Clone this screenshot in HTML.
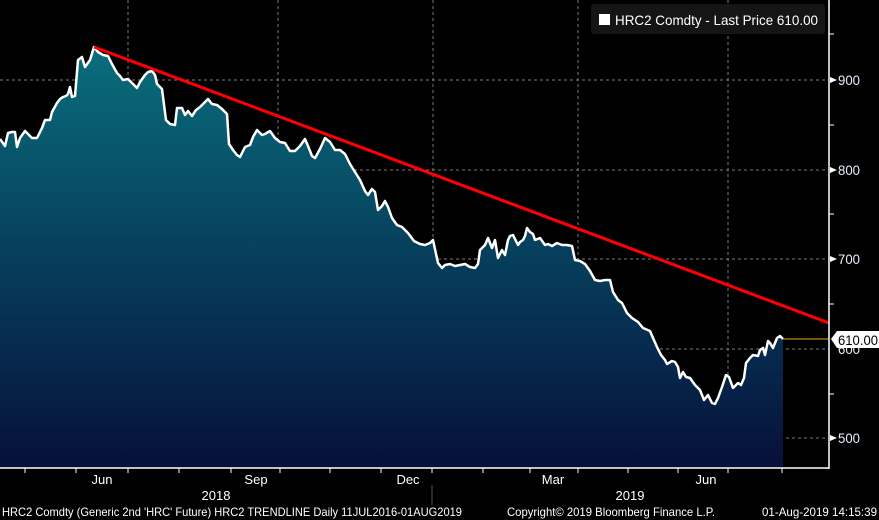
<!DOCTYPE html>
<html><head><meta charset="utf-8"><style>
html,body{margin:0;padding:0;background:#000;}
svg{display:block;font-family:"Liberation Sans",sans-serif;}
</style></head><body>
<svg width="879" height="520" viewBox="0 0 879 520" xmlns="http://www.w3.org/2000/svg">
<defs>
<linearGradient id="g" x1="0" y1="47" x2="0" y2="468" gradientUnits="userSpaceOnUse">
<stop offset="0" stop-color="#0a6e7c"/>
<stop offset="0.5" stop-color="#063e5c"/>
<stop offset="1" stop-color="#07103a"/>
</linearGradient>
</defs>
<rect width="879" height="520" fill="#000"/>
<g stroke="#7a7a7a" stroke-width="1" stroke-dasharray="3,3">
<line x1="0" y1="80" x2="829" y2="80"/><line x1="0" y1="170" x2="829" y2="170"/>
<line x1="0" y1="259" x2="829" y2="259"/><line x1="0" y1="349" x2="829" y2="349"/>
<line x1="0" y1="438" x2="829" y2="438"/>
<line x1="128" y1="0" x2="128" y2="468"/><line x1="278" y1="0" x2="278" y2="468"/>
<line x1="433" y1="0" x2="433" y2="468"/><line x1="578" y1="0" x2="578" y2="468"/>
<line x1="728" y1="0" x2="728" y2="468"/>
</g>
<polygon fill="url(#g)" points="0,468 0,139 5,146 8,133 12,132 15,132 17,147 20,138 25,131 28,134 32,138 37,138 42,128 45,120 50,120 52,112 57,103 60,99 63,97 66,96 68,94 70,87 72,97 75,96 78,60 82,57 85,67 90,60 94,47 98,52 103,55 108,56 112,64 117,73 120,76 123,80 128,79 132,83 137,88 140,82 145,75 148,72 152,71 155,75 157,84 162,89 166,120 170,124 175,125 177,108 182,108 185,115 188,111 192,116 196,110 200,107 205,102 208,99 212,104 217,105 222,109 227,114 229,144 233,150 237,155 240,157 245,147 250,145 253,137 257,130 262,135 265,134 270,131 275,138 280,142 285,143 290,151 295,151 300,146 305,139 308,146 312,156 315,158 320,149 325,138 330,142 335,150 340,150 345,154 350,164 355,172 360,180 365,191 368,195 372,189 375,192 378,210 382,206 385,201 388,207 392,218 397,225 402,227 408,233 414,241 420,244 425,245 430,243 433,240 438,263 442,268 445,265 450,264 455,266 460,265 465,264 470,267 475,268 478,264 480,250 485,245 488,238 492,248 495,240 498,258 502,250 505,255 508,240 510,236 513,235 518,245 520,242 523,240 525,236 527,228 530,232 533,234 535,240 540,238 545,245 548,244 552,246 557,243 562,245 567,245 572,246 575,260 580,261 585,264 590,271 595,280 600,281 605,280 610,280 613,292 618,300 622,303 627,313 632,318 638,322 643,328 650,331 653,338 657,347 661,355 665,360 667,364 672,361 675,362 678,367 680,378 683,372 686,377 690,378 695,385 700,390 704,400 708,395 712,403 715,404 718,398 722,387 726,375 729,377 733,388 738,383 741,385 744,378 746,363 750,358 753,355 758,356 760,350 763,348 765,355 768,341 770,343 773,348 777,338 780,336 783,339 783,468"/>
<polyline fill="none" stroke="#fff" stroke-width="2.5" stroke-linejoin="round" points="0,139 5,146 8,133 12,132 15,132 17,147 20,138 25,131 28,134 32,138 37,138 42,128 45,120 50,120 52,112 57,103 60,99 63,97 66,96 68,94 70,87 72,97 75,96 78,60 82,57 85,67 90,60 94,47 98,52 103,55 108,56 112,64 117,73 120,76 123,80 128,79 132,83 137,88 140,82 145,75 148,72 152,71 155,75 157,84 162,89 166,120 170,124 175,125 177,108 182,108 185,115 188,111 192,116 196,110 200,107 205,102 208,99 212,104 217,105 222,109 227,114 229,144 233,150 237,155 240,157 245,147 250,145 253,137 257,130 262,135 265,134 270,131 275,138 280,142 285,143 290,151 295,151 300,146 305,139 308,146 312,156 315,158 320,149 325,138 330,142 335,150 340,150 345,154 350,164 355,172 360,180 365,191 368,195 372,189 375,192 378,210 382,206 385,201 388,207 392,218 397,225 402,227 408,233 414,241 420,244 425,245 430,243 433,240 438,263 442,268 445,265 450,264 455,266 460,265 465,264 470,267 475,268 478,264 480,250 485,245 488,238 492,248 495,240 498,258 502,250 505,255 508,240 510,236 513,235 518,245 520,242 523,240 525,236 527,228 530,232 533,234 535,240 540,238 545,245 548,244 552,246 557,243 562,245 567,245 572,246 575,260 580,261 585,264 590,271 595,280 600,281 605,280 610,280 613,292 618,300 622,303 627,313 632,318 638,322 643,328 650,331 653,338 657,347 661,355 665,360 667,364 672,361 675,362 678,367 680,378 683,372 686,377 690,378 695,385 700,390 704,400 708,395 712,403 715,404 718,398 722,387 726,375 729,377 733,388 738,383 741,385 744,378 746,363 750,358 753,355 758,356 760,350 763,348 765,355 768,341 770,343 773,348 777,338 780,336 783,339"/>
<line x1="94" y1="47" x2="829" y2="323" stroke="#f00" stroke-width="3"/>
<line x1="783" y1="339" x2="829" y2="339" stroke="#f0a020" stroke-width="1"/>
<line x1="829" y1="0" x2="829" y2="469" stroke="#fff" stroke-width="1.5"/>
<line x1="0" y1="468" x2="829" y2="468" stroke="#fff" stroke-width="1.5"/>
<g stroke="#fff" stroke-width="1">
<line x1="829" y1="34" x2="834" y2="34"/><line x1="829" y1="125" x2="834" y2="125"/>
<line x1="829" y1="214" x2="834" y2="214"/><line x1="829" y1="304" x2="834" y2="304"/>
<line x1="829" y1="394" x2="834" y2="394"/>
<line x1="25" y1="468" x2="25" y2="473"/><line x1="76" y1="468" x2="76" y2="473"/><line x1="128" y1="468" x2="128" y2="473"/>
<line x1="179" y1="468" x2="179" y2="473"/><line x1="231" y1="468" x2="231" y2="473"/><line x1="280" y1="468" x2="280" y2="473"/>
<line x1="330" y1="468" x2="330" y2="473"/><line x1="381" y1="468" x2="381" y2="473"/><line x1="432" y1="468" x2="432" y2="473"/>
<line x1="483" y1="468" x2="483" y2="473"/><line x1="530" y1="468" x2="530" y2="473"/><line x1="578" y1="468" x2="578" y2="473"/>
<line x1="628" y1="468" x2="628" y2="473"/><line x1="678" y1="468" x2="678" y2="473"/><line x1="728" y1="468" x2="728" y2="473"/>
<line x1="782" y1="468" x2="782" y2="473"/>
<line x1="432" y1="485" x2="432" y2="505" stroke="#555"/>
</g>
<g fill="#fff">
<polygon points="830,77 837,80 830,83"/><polygon points="830,167 837,170 830,173"/>
<polygon points="830,256 837,259 830,262"/><polygon points="830,435 837,438 830,441"/>
</g>
<g fill="#e6eeff" font-size="14">
<text x="838" y="85" textLength="22" lengthAdjust="spacingAndGlyphs">900</text><text x="838" y="175" textLength="22" lengthAdjust="spacingAndGlyphs">800</text>
<text x="838" y="264" textLength="22" lengthAdjust="spacingAndGlyphs">700</text><text x="838" y="354" textLength="22" lengthAdjust="spacingAndGlyphs">600</text><text x="838" y="443" textLength="22" lengthAdjust="spacingAndGlyphs">500</text>
</g>
<polygon points="831,339 837,331 879,331 879,348 837,348" fill="#fff"/>
<text x="838" y="345" font-size="14" fill="#000" textLength="40" lengthAdjust="spacingAndGlyphs">610.00</text>
<rect x="591" y="4" width="234" height="30" rx="3" fill="#151515"/>
<rect x="599" y="14" width="11" height="11" fill="#fff"/>
<text x="615" y="25" font-size="14" fill="#fff" textLength="203" lengthAdjust="spacingAndGlyphs">HRC2 Comdty - Last Price 610.00</text>
<g fill="#fff" font-size="13" text-anchor="middle">
<text x="102" y="484">Jun</text><text x="256" y="484">Sep</text><text x="408" y="484">Dec</text>
<text x="553" y="484">Mar</text><text x="706" y="484">Jun</text>
<text x="216" y="500">2018</text><text x="630" y="500">2019</text>
</g>
<g fill="#fff" font-size="12">
<text x="2" y="516" textLength="460" lengthAdjust="spacingAndGlyphs">HRC2 Comdty (Generic 2nd 'HRC' Future) HRC2 TRENDLINE  Daily 11JUL2016-01AUG2019</text>
<text x="507" y="516" textLength="208" lengthAdjust="spacingAndGlyphs">Copyright© 2019 Bloomberg Finance L.P.</text>
<text x="762" y="516" textLength="115" lengthAdjust="spacingAndGlyphs">01-Aug-2019 14:15:39</text>
</g>
</svg>
</body></html>
